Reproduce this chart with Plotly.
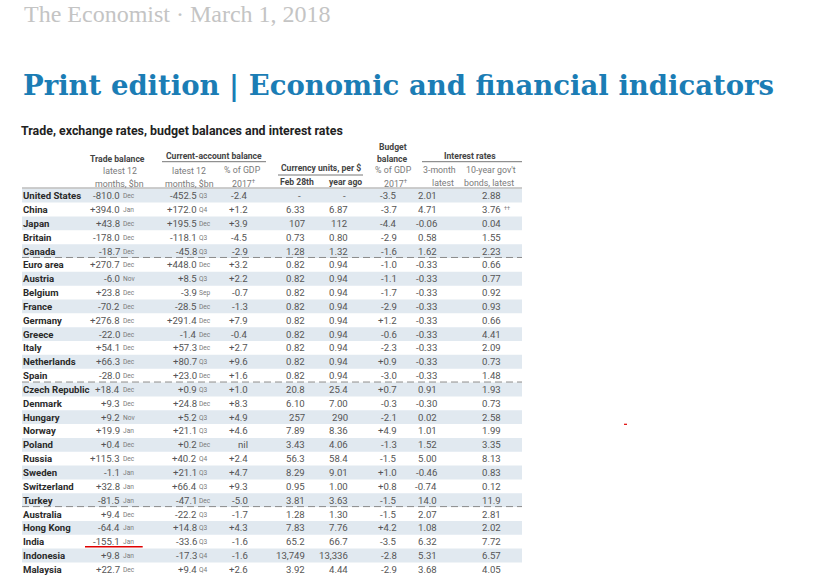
import plotly.graph_objects as go

# ---------------- data ----------------
countries = ["United States", "China", "Japan", "Britain", "Canada", "Euro area", "Austria",
             "Belgium", "France", "Germany", "Greece", "Italy", "Netherlands", "Spain",
             "Czech Republic", "Denmark", "Hungary", "Norway", "Poland", "Russia", "Sweden",
             "Switzerland", "Turkey", "Australia", "Hong Kong", "India", "Indonesia", "Malaysia"]
trade_bal = [-810.0, 394.0, 43.8, -178.0, -18.7, 270.7, -6.0, 23.8, -70.2, 276.8, -22.0, 54.1,
             66.3, -28.0, 18.4, 9.3, 9.2, 19.9, 0.4, 115.3, -1.1, 32.8, -81.5, 9.4, -64.4,
             -155.1, 9.8, 22.7]
trade_month = ["Dec", "Jan", "Dec", "Dec", "Dec", "Dec", "Nov", "Dec", "Dec", "Dec", "Dec", "Dec",
               "Dec", "Dec", "Dec", "Dec", "Nov", "Jan", "Dec", "Dec", "Jan", "Jan", "Jan", "Dec",
               "Jan", "Jan", "Jan", "Dec"]
ca_bal = [-452.5, 172.0, 195.5, -118.1, -45.8, 448.0, 8.5, -3.9, -28.5, 291.4, -1.4, 57.3, 80.7,
          23.0, 0.9, 24.8, 5.2, 21.1, 0.2, 40.2, 21.1, 66.4, -47.1, -22.2, 14.8, -33.6, -17.3, 9.4]
ca_period = ["Q3", "Q4", "Dec", "Q3", "Q3", "Dec", "Q3", "Sep", "Dec", "Dec", "Dec", "Dec", "Q3",
             "Dec", "Q3", "Dec", "Q3", "Q3", "Dec", "Q4", "Q3", "Q3", "Dec", "Q3", "Q3", "Q3",
             "Q4", "Q4"]
ca_gdp = [-2.4, 1.2, 3.9, -4.5, -2.9, 3.2, 2.2, -0.7, -1.3, 7.9, -0.4, 2.7, 9.6, 1.6, 1.0, 8.3,
          4.9, 4.6, 0.0, 2.4, 4.7, 9.3, -5.0, -1.7, 4.3, -1.6, -1.6, 2.6]
fx_feb28 = [None, 6.33, 107, 0.73, 1.28, 0.82, 0.82, 0.82, 0.82, 0.82, 0.82, 0.82, 0.82, 0.82,
            20.8, 6.10, 257, 7.89, 3.43, 56.3, 8.29, 0.95, 3.81, 1.28, 7.83, 65.2, 13749, 3.92]
fx_year_ago = [None, 6.87, 112, 0.80, 1.32, 0.94, 0.94, 0.94, 0.94, 0.94, 0.94, 0.94, 0.94, 0.94,
               25.4, 7.00, 290, 8.36, 4.06, 58.4, 9.01, 1.00, 3.63, 1.30, 7.76, 66.7, 13336, 4.44]
budget_gdp = [-3.5, -3.7, -4.4, -2.9, -1.6, -1.0, -1.1, -1.7, -2.9, 1.2, -0.6, -2.3, 0.9, -3.0,
              0.7, -0.3, -2.1, 4.9, -1.3, -1.5, 1.0, 0.8, -1.5, -1.5, 4.2, -3.5, -2.8, -2.9]
rate_3m = [2.01, 4.71, -0.06, 0.58, 1.62, -0.33, -0.33, -0.33, -0.33, -0.33, -0.33, -0.33, -0.33,
           -0.33, 0.91, -0.30, 0.02, 1.01, 1.52, 5.00, -0.46, -0.74, 14.0, 2.07, 1.08, 6.32, 5.31,
           3.68]
rate_10y = [2.88, 3.76, 0.04, 1.55, 2.23, 0.66, 0.77, 0.92, 0.93, 0.66, 4.41, 2.09, 0.73, 1.48,
            1.93, 0.73, 2.58, 1.99, 3.35, 8.13, 0.83, 0.12, 11.9, 2.81, 2.02, 7.72, 6.57, 4.05]
rate_10y_note = {"China": "††"}
group_breaks = ["Canada", "Spain", "Turkey"]
marked_row = "India"

# ---------------- style ----------------
SANS = "Roboto, 'Liberation Sans', sans-serif"
SERIF = "'DejaVu Serif', 'Liberation Serif', serif"
NAME_C = "#2a2a2a"
VAL_C = "#555555"
SUB_C = "#7a7a7a"
HEAD_C = "#444444"
SHADE = "#e1e9f0"

W, H = 840, 577

ROW0 = 195.7
PITCH = 13.84
TBL_L, TBL_R = 22, 522


def row_y(i):
    return ROW0 + i * PITCH


def signed(v):
    return "nil" if v == 0 else f"{v:+.1f}"


def sig3(v):
    if v is None:
        return "-"
    a = abs(v)
    if a >= 1000:
        return f"{v:,.0f}"
    if a >= 100:
        return f"{v:.0f}"
    if a >= 10:
        return f"{v:.1f}"
    return f"{v:.2f}"


annotations = []
shapes = []


def txt(x, y, s, size, color, anchor="right", bold=False, family=SANS):
    annotations.append(dict(
        x=x, y=y, xref="x", yref="y", text=f"<b>{s}</b>" if bold else s,
        showarrow=False, xanchor=anchor, yanchor="middle",
        font=dict(family=family, size=size, color=color),
        borderpad=0, borderwidth=0))


def hline(x0, x1, y, color, width=1, dash="solid"):
    shapes.append(dict(type="line", xref="x", yref="y", x0=x0, x1=x1, y0=y, y1=y,
                       line=dict(color=color, width=width, dash=dash), layer="above"))


# page header
txt(24, 14, "The Economist · March 1, 2018", 24, "#c4c4c4", anchor="left",
    family="'Liberation Serif', serif")
txt(23, 85, "<b>Print edition | Economic and financial indicators</b>", 27.5, "#1b7db5",
    anchor="left", family=SERIF)
txt(21, 130, "Trade, exchange rates, budget balances and interest rates", 12.4, "#222222",
    anchor="left", bold=True)

# column headers
HB = 8.6
HR = 8.8
txt(392.5, 146.5, "Budget", HB, HEAD_C, anchor="center", bold=True)
txt(117.5, 158.5, "Trade balance", HB, HEAD_C, anchor="center", bold=True)
txt(214, 155.5, "Current-account balance", HB, HEAD_C, anchor="center", bold=True)
txt(392.5, 158.5, "balance", HB, HEAD_C, anchor="center", bold=True)
txt(470, 155.5, "Interest rates", HB, HEAD_C, anchor="center", bold=True)
txt(119.5, 171, "latest 12", HR, SUB_C, anchor="center")
txt(189, 171, "latest 12", HR, SUB_C, anchor="center")
txt(242, 170, "% of GDP", HR, SUB_C, anchor="center")
txt(320.5, 168, "Currency units, per $", HB, HEAD_C, anchor="center", bold=True)
txt(393, 170, "% of GDP", HR, SUB_C, anchor="center")
txt(439.5, 170, "3-month", HR, SUB_C, anchor="center")
txt(490.5, 170, "10-year gov't", HR, SUB_C, anchor="center")
txt(119, 183.5, "months, $bn", HR, SUB_C, anchor="center")
txt(189, 183.5, "months, $bn", HR, SUB_C, anchor="center")
txt(256, 183, "2017<sup>†</sup>", HR, SUB_C, anchor="right")
txt(296.5, 182, "Feb 28th", HB, HEAD_C, anchor="center", bold=True)
txt(345, 182, "year ago", HB, HEAD_C, anchor="center", bold=True)
txt(408, 183, "2017<sup>†</sup>", HR, SUB_C, anchor="right")
txt(442.5, 183, "latest", HR, SUB_C, anchor="center")
txt(489, 183, "bonds, latest", HR, SUB_C, anchor="center")

hline(162, 266, 161.7, "#777777", 1)
hline(422, TBL_R, 161.7, "#777777", 1)
hline(278, 363, 175, "#777777", 1)
hline(TBL_L, TBL_R, 188, "#9a9a9a", 1)

# body
VS = 9.6
MS = 6.6
for i, name in enumerate(countries):
    y = row_y(i)
    if i % 2 == 0:
        shapes.append(dict(type="rect", xref="x", yref="y", x0=TBL_L, x1=TBL_R,
                           y0=y - PITCH / 2, y1=y + PITCH / 2, fillcolor=SHADE,
                           line=dict(width=0), layer="below"))
    if name in group_breaks:
        hline(TBL_L, TBL_R, y + PITCH / 2 - 0.5, "#8a8a8a", 1, dash="7px,4px")
    txt(23, y, name, VS, NAME_C, anchor="left", bold=True)
    txt(120.3, y, f"{trade_bal[i]:+.1f}", VS, VAL_C)
    txt(123, y + 0.5, trade_month[i], MS, SUB_C, anchor="left")
    txt(196.7, y, f"{ca_bal[i]:+.1f}", VS, VAL_C)
    txt(199, y + 0.5, ca_period[i], MS, SUB_C, anchor="left")
    txt(248.3, y, signed(ca_gdp[i]), VS, VAL_C)
    if fx_feb28[i] is None:
        txt(299.5, y, "-", VS, VAL_C, anchor="center")
    else:
        txt(305, y, sig3(fx_feb28[i]), VS, VAL_C)
    if fx_year_ago[i] is None:
        txt(344.5, y, "-", VS, VAL_C, anchor="center")
    else:
        txt(348.3, y, sig3(fx_year_ago[i]), VS, VAL_C)
    txt(397.3, y, signed(budget_gdp[i]), VS, VAL_C)
    txt(436.7, y, sig3(rate_3m[i]), VS, VAL_C)
    txt(501, y, sig3(rate_10y[i]), VS, VAL_C)
    if name in rate_10y_note:
        txt(503.5, y - 2, rate_10y_note[name], 5.5, SUB_C, anchor="left")
    if name == marked_row:
        hline(85, 142.7, y + 5, "#e00000", 1.5)

# small red mark in the reference screenshot
hline(624, 627, 424.3, "#e00000", 1.2)

fig = go.Figure(go.Scatter(x=[0, W], y=[0, H], mode="markers",
                           marker=dict(opacity=0), hoverinfo="skip", showlegend=False))
fig.update_layout(
    width=W, height=H, margin=dict(l=0, r=0, t=0, b=0, pad=0),
    paper_bgcolor="white", plot_bgcolor="white",
    xaxis=dict(range=[0, W], visible=False, fixedrange=True),
    yaxis=dict(range=[H, 0], visible=False, fixedrange=True),
    annotations=annotations, shapes=shapes, showlegend=False,
)
# remove the browser's default 8px body margin so the figure fills the window exactly
fig.write_html("out.html", post_script="document.body.style.margin='0px';",
               config={"displayModeBar": False})
